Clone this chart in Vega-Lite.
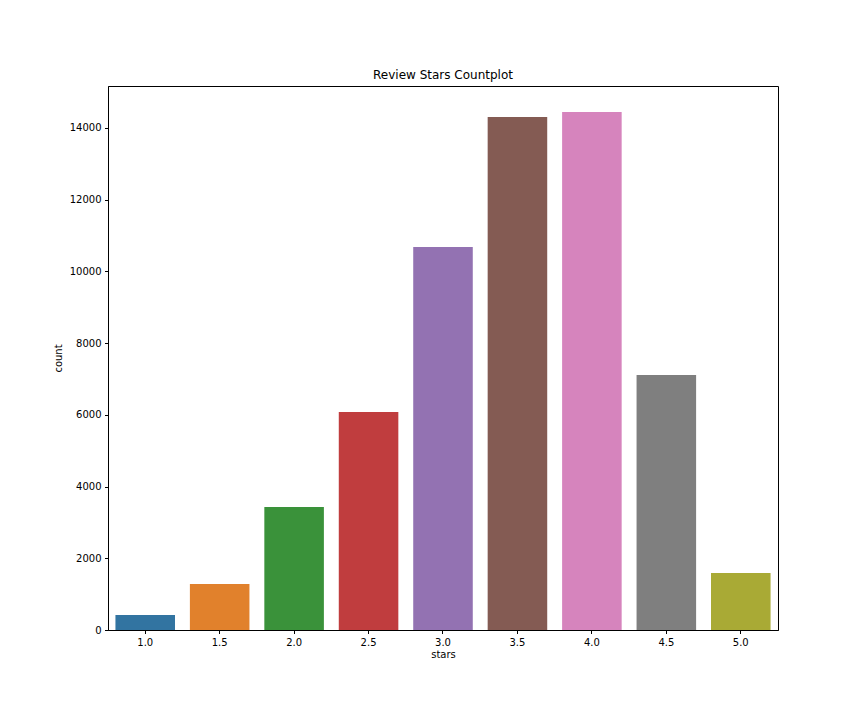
{
  "$schema": "https://vega.github.io/schema/vega-lite/v6.json",
  "width": 670,
  "height": 544,
  "autosize": "none",
  "padding": {"left": 108, "top": 86, "right": 86, "bottom": 90},
  "background": "white",
  "title": {"text": "Review Stars Countplot", "font": "DejaVu Sans", "fontSize": 12, "fontWeight": "normal", "color": "#000", "offset": 4},
  "config": {
    "view": {"stroke": "#000", "strokeWidth": 1},
    "axis": {"labelFont": "DejaVu Sans", "titleFont": "DejaVu Sans", "labelFontSize": 10, "titleFontSize": 10, "titleFontWeight": "normal", "labelColor": "#000", "titleColor": "#000", "domainColor": "#000", "tickColor": "#000", "tickSize": 3.5, "labelPadding": 3.5, "grid": false}
  },
  "data": {"values": [
    {"stars": "1.0", "count": 418},
    {"stars": "1.5", "count": 1283},
    {"stars": "2.0", "count": 3431},
    {"stars": "2.5", "count": 6080},
    {"stars": "3.0", "count": 10680},
    {"stars": "3.5", "count": 14306},
    {"stars": "4.0", "count": 14445},
    {"stars": "4.5", "count": 7111},
    {"stars": "5.0", "count": 1590}
  ]},
  "mark": {"type": "bar"},
  "encoding": {
    "x": {"field": "stars", "type": "nominal", "sort": null, "title": "stars",
      "scale": {"paddingInner": 0.2, "paddingOuter": 0.1},
      "axis": {"labelAngle": 0, "titlePadding": 2}},
    "y": {"field": "count", "type": "quantitative", "title": "count",
      "scale": {"domain": [0, 15170], "nice": false},
      "axis": {"values": [0, 2000, 4000, 6000, 8000, 10000, 12000, 14000], "format": "d", "titlePadding": 6}},
    "color": {"field": "stars", "type": "nominal", "sort": null, "legend": null,
      "scale": {"range": ["#3274a1", "#e1812c", "#3a923a", "#c03d3e", "#9372b2", "#845b53", "#d684bd", "#7f7f7f", "#a9aa35"]}}
  }
}
